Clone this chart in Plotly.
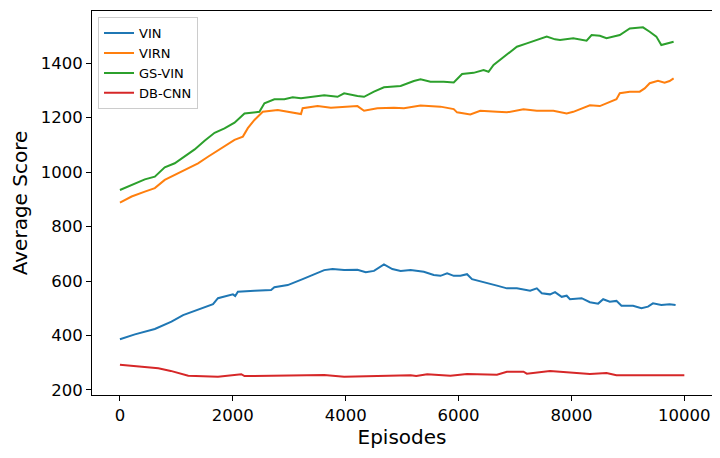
"""Average score per episode for four agents."""

import plotly.graph_objs as go

# VIN
vin_ep = [0, 265, 618, 913, 1119, 1384, 1649, 1737, 2002, 2042,
          2090, 2383, 2678, 2736, 2973, 3237, 3619, 3767, 3972, 4208,
          4355, 4501, 4590, 4678, 4826, 4973, 5150, 5384, 5560, 5679,
          5797, 5914, 6032, 6150, 6238, 6443, 6680, 6856, 7033, 7268,
          7386, 7474, 7620, 7709, 7827, 7915, 7973, 8180, 8327, 8473,
          8562, 8679, 8797, 8886, 9091, 9239, 9356, 9444, 9592, 9739,
          9845]
vin_val = [386, 404, 424, 451, 475, 494, 515, 537, 551, 545,
           561, 564, 567, 577, 585, 607, 640, 644, 640, 641,
           632, 637, 649, 661, 644, 637, 640, 634, 622, 619,
           628, 619, 619, 625, 607, 597, 583, 573, 573, 564,
           573, 555, 551, 559, 542, 546, 533, 537, 522, 517,
           533, 524, 527, 509, 509, 500, 506, 518, 512, 515,
           512]

# VIRN
virn_ep = [0, 207, 441, 618, 794, 971, 1207, 1384, 1560, 1795,
           2030, 2178, 2266, 2383, 2531, 2796, 3031, 3208, 3237, 3502,
           3737, 3972, 4208, 4325, 4561, 4855, 5032, 5326, 5679, 5914,
           5973, 6208, 6384, 6680, 6856, 7149, 7386, 7679, 7915, 8032,
           8208, 8327, 8503, 8679, 8797, 8856, 9033, 9209, 9297, 9386,
           9533, 9650, 9739, 9810]
virn_val = [888, 910, 928, 941, 971, 990, 1014, 1032, 1056, 1087,
            1118, 1130, 1161, 1191, 1221, 1228, 1218, 1213, 1234, 1242,
            1236, 1240, 1242, 1225, 1234, 1236, 1234, 1244, 1240, 1231,
            1219, 1211, 1225, 1221, 1219, 1230, 1225, 1225, 1215, 1221,
            1234, 1245, 1242, 1258, 1267, 1289, 1295, 1295, 1307, 1326,
            1335, 1328, 1334, 1344]

# GS-VIN
gsvin_ep = [0, 207, 441, 618, 794, 971, 1147, 1324, 1500, 1677,
            1853, 2030, 2207, 2325, 2471, 2560, 2736, 2913, 3061, 3208,
            3384, 3619, 3855, 3972, 4208, 4325, 4501, 4678, 4973, 5207,
            5326, 5502, 5737, 5914, 6062, 6266, 6443, 6531, 6620, 6796,
            7033, 7209, 7386, 7562, 7709, 7797, 8032, 8268, 8357, 8503,
            8621, 8856, 9033, 9267, 9386, 9504, 9592, 9708, 9810]
gsvin_val = [934, 952, 973, 983, 1017, 1032, 1059, 1083, 1115, 1144,
             1160, 1181, 1215, 1218, 1221, 1252, 1267, 1267, 1274, 1271,
             1276, 1282, 1276, 1289, 1279, 1276, 1295, 1311, 1316, 1334,
             1340, 1331, 1331, 1329, 1360, 1364, 1374, 1368, 1393, 1423,
             1460, 1472, 1485, 1497, 1487, 1485, 1491, 1482, 1503, 1500,
             1491, 1503, 1527, 1531, 1515, 1497, 1466, 1472, 1478]

# DB-CNN
dbcnn_ep = [0, 350, 680, 900, 1090, 1210, 1737, 2150, 2207, 3031,
            3619, 3972, 4501, 5150, 5250, 5444, 5855, 6150, 6680, 6856,
            7150, 7209, 7620, 8032, 8327, 8621, 8797, 10000]
dbcnn_val = [293, 287, 280, 270, 259, 252, 249, 258, 251, 254,
             255, 249, 252, 254, 251, 258, 252, 259, 256, 267,
             267, 260, 270, 265, 259, 262, 254, 254]

x_ticks = [0, 2000, 4000, 6000, 8000, 10000]
x_labels = ["0", "2000", "4000", "6000", "8000", "10000"]
y_ticks = [200, 400, 600, 800, 1000, 1200, 1400]

series = [
    ("VIN", vin_ep, vin_val, "#1f77b4"),
    ("VIRN", virn_ep, virn_val, "#ff7f0e"),
    ("GS-VIN", gsvin_ep, gsvin_val, "#2ca02c"),
    ("DB-CNN", dbcnn_ep, dbcnn_val, "#d62728"),
]

fig = go.Figure()
for name, ep, val, color in series:
    fig.add_trace(go.Scatter(x=ep, y=val, name=name, mode="lines",
                             line=dict(color=color, width=2)))

axis_common = dict(
    showline=True, linecolor="black", linewidth=1, mirror=True,
    ticks="outside", ticklen=5, tickcolor="black", showgrid=False,
    zeroline=False, automargin=False,
    tickfont=dict(size=16.5, color="black"),
)

# the page body adds an 8px offset, so margins are shifted to compensate
fig.update_layout(
    width=720, height=458,
    margin=dict(l=84, r=16, t=3, b=71),
    paper_bgcolor="white", plot_bgcolor="white",
    font=dict(family="DejaVu Sans", color="black"),
    xaxis=dict(range=[-495, 10490], tickvals=x_ticks, ticktext=x_labels,
               title=dict(text="Episodes", font=dict(size=20), standoff=4),
               **axis_common),
    yaxis=dict(range=[181.6, 1591], tickvals=y_ticks,
               title=dict(text="Average Score", font=dict(size=20), standoff=8),
               **axis_common),
    legend=dict(x=0.0097, y=0.984, xanchor="left", yanchor="top",
                bgcolor="rgba(255,255,255,0.8)", bordercolor="#cccccc",
                borderwidth=1, font=dict(size=13), tracegroupgap=0),
    showlegend=True,
)

fig.write_html("out.html")
